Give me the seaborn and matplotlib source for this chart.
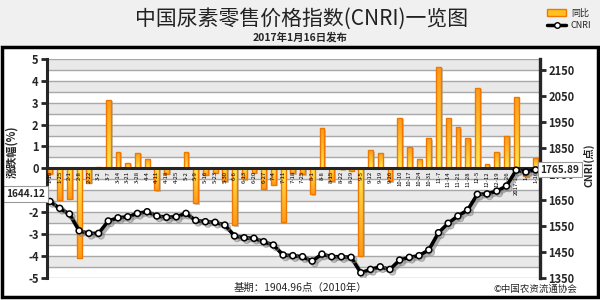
import numpy as np
import pandas as pd
import matplotlib
matplotlib.use("Agg")
import matplotlib.pyplot as plt
import seaborn as sns
from matplotlib import patheffects as pe
from matplotlib.patches import Rectangle, Patch
from matplotlib.lines import Line2D
from matplotlib.colors import LinearSegmentedColormap
import matplotlib.transforms as mtransforms

# ---------------- data ----------------
dates = ["1-18", "1-25", "2-1", "2-8", "2-22", "3-2", "3-7", "3-14", "3-21", "3-28",
         "4-4", "4-11", "4-18", "4-25", "5-2", "5-9", "5-16", "5-23", "5-30", "6-6",
         "6-13", "6-20", "6-27", "7-4", "7-11", "7-18", "7-25", "8-1", "8-8", "8-15",
         "8-22", "8-29", "9-5", "9-12", "9-19", "9-26", "10-10", "10-17", "10-24", "10-31",
         "11-7", "11-14", "11-21", "11-28", "12-5", "12-12", "12-19", "12-26", "2017-1-3", "1-9",
         "1-16"]
change = [-0.24, -1.45, -1.38, -4.08, -0.65, 0.05, 3.13, 0.75, 0.25, 0.72,
          0.42, -1.00, -0.24, 0.03, 0.77, -1.60, -0.30, -0.20, -0.60, -2.60,
          -0.50, -0.20, -0.95, -0.75, -2.47, -0.22, -0.27, -1.18, 1.84, -0.60,
          -0.05, -0.10, -4.00, 0.83, 0.70, -0.60, 2.32, 0.98, 0.42, 1.38,
          4.65, 2.32, 1.87, 1.41, 3.68, 0.22, 0.77, 1.49, 3.28, -0.35,
          0.47]
cnri = [1644.12, 1617.6, 1595.7, 1531.0, 1521.0, 1521.0, 1568.7, 1581.0, 1585.0, 1598.0,
        1604.5, 1588.0, 1583.0, 1585.0, 1598.0, 1571.0, 1566.0, 1563.6, 1553.0, 1511.0,
        1504.0, 1502.0, 1489.0, 1476.0, 1437.5, 1435.0, 1431.0, 1414.0, 1441.0, 1431.0,
        1431.0, 1428.6, 1369.0, 1382.0, 1392.0, 1382.0, 1418.0, 1428.6, 1435.0, 1457.0,
        1523.5, 1560.0, 1588.0, 1611.0, 1671.6, 1673.0, 1684.0, 1703.6, 1764.5, 1757.6,
        1765.89]
left_ticks = [-5, -4, -3, -2, -1, 0, 1, 2, 3, 4, 5]
right_ticks = [1350, 1450, 1550, 1650, 1750, 1850, 1950, 2050, 2150]
title = "中国尿素零售价格指数(CNRI)一览图"
subtitle = "2017年1月16日发布"
base_note = "基期：1904.96点（2010年）"
copyright_note = "©中国农资流通协会"

df = pd.DataFrame({"idx": np.arange(len(dates)), "date": dates,
                   "change": change, "cnri": cnri})

# ---------------- style ----------------
sns.set_style("white")
plt.rcParams["font.family"] = ["Noto Sans CJK SC", "DejaVu Sans"]
plt.rcParams["axes.unicode_minus"] = False

W, H = 600, 300
fig = plt.figure(figsize=(6, 3), dpi=100)
fig.patch.set_facecolor("white")

# header band and frame
fig.add_artist(Rectangle((0, 1 - 47 / H), 1, 47 / H, transform=fig.transFigure,
                         facecolor="#f0f0f0", edgecolor="none", zorder=0))
fig.add_artist(Rectangle((2 / W, 1 - 297 / H), 596 / W, 250 / H, transform=fig.transFigure,
                         facecolor="none", edgecolor="black", lw=2.5, zorder=10))

ax = fig.add_axes([47 / W, 1 - 277.7 / H, (540 - 47) / W, (277.7 - 59) / H])
ax.set_facecolor("white")
xlim = (-0.31, len(dates) - 1 + 0.45)

sns.barplot(data=df, x="idx", y="change", ax=ax, native_scale=True, width=0.5,
            color="#ffc020", edgecolor="#f07800", linewidth=1.0, zorder=3)
bar_patches = list(ax.patches)

cmap = LinearSegmentedColormap.from_list("yo", ["#ffea50", "#ffc030", "#ff9a18"])
shadow_tr = mtransforms.offset_copy(ax.transData, fig=fig, x=1.8, y=-1.5, units="dots")
grad = np.linspace(0, 1, 64).reshape(-1, 1)
for p in bar_patches:
    x0, y0 = p.get_x(), p.get_y()
    w, h = p.get_width(), p.get_height()
    lo, hi = min(y0, y0 + h), max(y0, y0 + h)
    ax.add_patch(Rectangle((x0, lo), w, hi - lo, transform=shadow_tr,
                           facecolor="#9a9a9a", alpha=0.55, lw=0, zorder=2.5))
    arr = grad if (y0 + h) >= 0 else grad[::-1]
    im = ax.imshow(arr, extent=[x0, x0 + w, lo, hi], origin="lower", cmap=cmap,
                   aspect="auto", interpolation="bilinear", zorder=2.8)
    im.set_clip_path(p)
    p.set_facecolor("none")

ax.set_xlim(*xlim)
ax.set_ylim(-5, 5)

# alternating bands
for k in range(-5, 5):
    ax.axhspan(k + 0.5, k + 1, facecolor="#e9e9e9", edgecolor="none", zorder=0.2)

# grid
ax.set_yticks(left_ticks)
ax.set_yticklabels([str(t) for t in left_ticks], fontsize=8, fontweight="bold")
ax.set_yticks(np.arange(-5, 5.01, 0.5), minor=True)
ax.grid(which="both", axis="y", color="#a8a8a8", lw=1.0, zorder=1)
ax.grid(False, axis="x")
ax.set_axisbelow(True)
ax.tick_params(axis="y", which="major", direction="out", length=4, width=2, pad=2)
ax.tick_params(axis="y", which="minor", length=0)

# zero line acts as x axis
ax.spines["bottom"].set_position(("data", 0))
ax.spines["bottom"].set_linewidth(2.2)
ax.spines["bottom"].set_zorder(4)
ax.spines["left"].set_linewidth(2.2)
ax.spines["top"].set_visible(False)
ax.spines["right"].set_visible(False)
ax.set_xticks(np.arange(1.5, len(dates), 2))
ax.set_xticklabels([])
ax.tick_params(axis="x", direction="out", length=3, width=1.5, color="black")
ax.set_xlabel("")
ax.set_ylabel("")

for i, d in enumerate(dates):
    ax.text(i, -0.12, d, rotation=90, ha="center", va="top", fontsize=4.3,
            color="black", zorder=6)

# CNRI line on secondary axis
ax2 = ax.twinx()
sns.lineplot(data=df, x="idx", y="cnri", ax=ax2, color="black", lw=2.6,
             marker="o", markersize=4.3, markerfacecolor="white",
             markeredgecolor="black", markeredgewidth=1.1,
             path_effects=[pe.SimpleLineShadow(offset=(1.8, -1.8), shadow_color="#808080", alpha=0.6),
                           pe.Normal()])
ax2.set_xlim(*xlim)
ax2.set_ylim(1350, 1350 + (277.7 - 59) / 0.2593)
ax2.set_yticks(right_ticks)
ax2.set_yticklabels([str(t) for t in right_ticks], fontsize=8, fontweight="bold")
ax2.tick_params(axis="y", direction="out", length=4, width=2, pad=2)
for s in ["left", "top", "bottom"]:
    ax2.spines[s].set_visible(False)
ax2.spines["right"].set_linewidth(2.4)
ax2.set_xlabel("")
ax2.set_ylabel("")
ax2.grid(False)

# value boxes
ax2.annotate(f"{cnri[0]:.2f}", xy=(-0.043, cnri[0]), xycoords=ax2.get_yaxis_transform(),
             xytext=(0, 5), textcoords="offset points", ha="center", va="center",
             fontsize=7.2, fontweight="bold", annotation_clip=False, zorder=8,
             bbox=dict(boxstyle="square,pad=0.3", fc="white", ec="#9a9a9a", lw=0.8))
ax2.annotate(f"{cnri[-1]:.2f}", xy=(1.04, cnri[-1]), xycoords=ax2.get_yaxis_transform(),
             xytext=(0, 0), textcoords="offset points", ha="center", va="center",
             fontsize=7.2, fontweight="bold", annotation_clip=False, zorder=8,
             bbox=dict(boxstyle="square,pad=0.25", fc="white", ec="#9a9a9a", lw=0.8))

# texts
fig.text(0.503, 1 - 19 / H, title, ha="center", va="center", fontsize=15, color="#222222")
fig.text(0.5, 1 - 37 / H, subtitle, ha="center", va="center", fontsize=7.5, fontweight="bold")
fig.text(12 / W, 1 - 152 / H, "涨跌幅(%)", rotation=90, ha="center", va="center",
         fontsize=8, fontweight="bold")
fig.text(589 / W, 1 - 165 / H, "CNRI(点)", rotation=90, ha="center", va="center",
         fontsize=7.5, fontweight="bold")
fig.text(300 / W, 1 - 288 / H, base_note, ha="center", va="center", fontsize=7.5)
fig.text(535 / W, 1 - 289.5 / H, copyright_note, ha="center", va="center", fontsize=6.8)

# legend
handles = [Patch(facecolor="#ffc020", edgecolor="#f07800", lw=1.0),
           Line2D([0], [0], color="black", lw=2.5, marker="o", markersize=4,
                  markerfacecolor="white", markeredgecolor="black")]
fig.legend(handles, ["同比", "CNRI"], loc="upper right", bbox_to_anchor=(0.995, 0.99),
           frameon=False, fontsize=6.5, handlelength=2.2, handleheight=0.8,
           labelspacing=0.4, borderaxespad=0.2, handletextpad=0.5)

fig.savefig("out.png", dpi=100)
